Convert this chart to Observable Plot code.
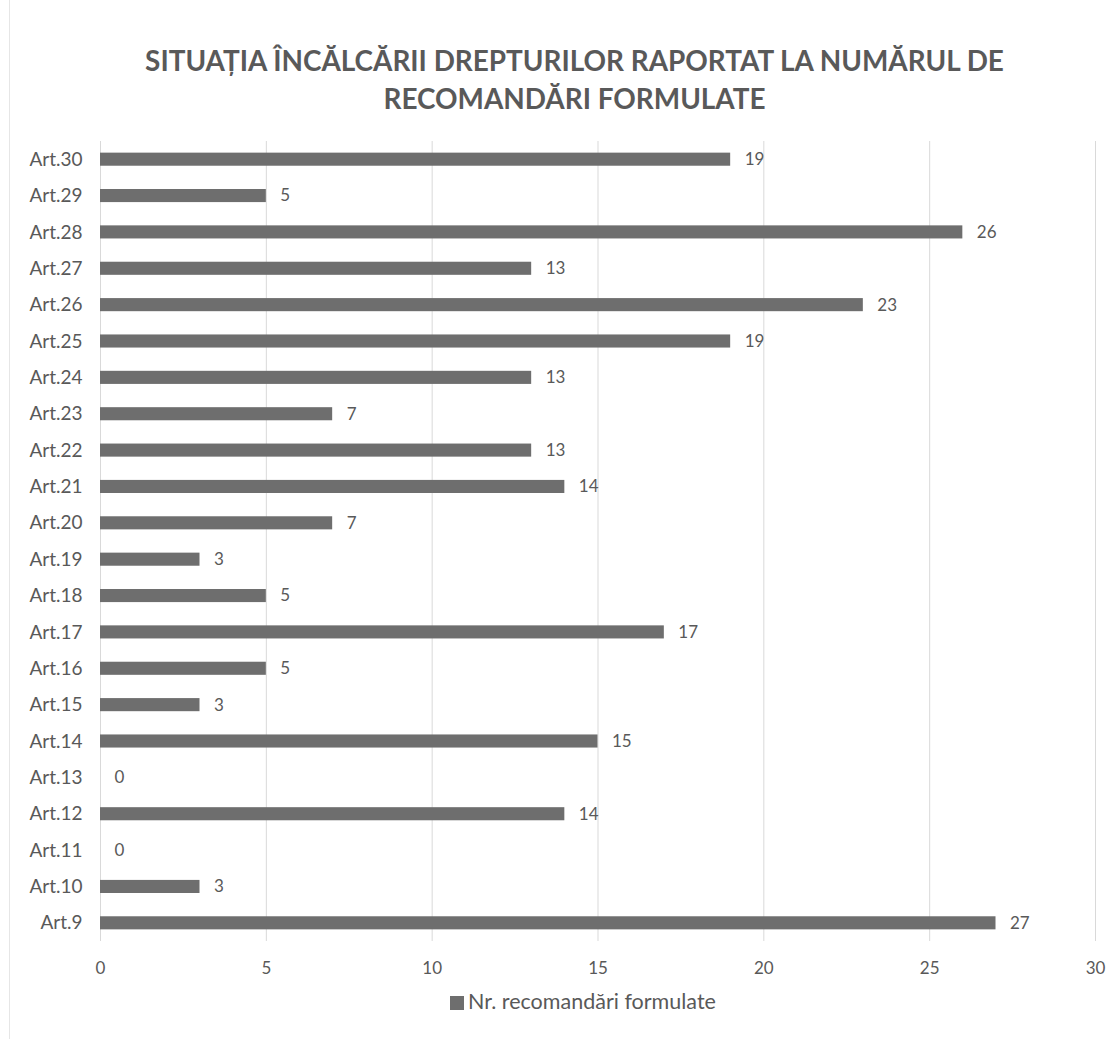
<!DOCTYPE html>
<html><head><meta charset="utf-8">
<script src="https://cdn.jsdelivr.net/npm/d3@7"></script>
<script src="https://cdn.jsdelivr.net/npm/@observablehq/plot@0.6"></script>
<style>
body{margin:0;background:#fff;font-family:Lato,"Open Sans",sans-serif;}
#wrap{position:relative;width:1119px;height:1039px;overflow:hidden;}
#title{position:absolute;left:15px;top:41px;width:1119px;text-align:center;font-weight:700;font-size:27.9px;line-height:38px;color:#595959;}
#legend{position:absolute;left:450px;top:988px;white-space:nowrap;font-size:21.5px;color:#595959;}
#legend span.sw{display:inline-block;width:14px;height:14px;background:#6e6e6e;margin-right:4px;vertical-align:-1px;}
#frame{position:absolute;left:9px;top:0;width:1px;height:1039px;background:#e6e6e6;}
</style></head>
<body><div id="wrap"><div id="frame"></div><div id="chart"></div>
<div id="title">SITUAȚIA ÎNCĂLCĂRII DREPTURILOR RAPORTAT LA NUMĂRUL DE<br>RECOMANDĂRI FORMULATE</div>
<div id="legend"><span class="sw"></span>Nr. recomandări formulate</div>
</div>
<script>
const categories = ["Art.30","Art.29","Art.28","Art.27","Art.26","Art.25","Art.24","Art.23","Art.22","Art.21","Art.20","Art.19","Art.18","Art.17","Art.16","Art.15","Art.14","Art.13","Art.12","Art.11","Art.10","Art.9"];
const values = [19,5,26,13,23,19,13,7,13,14,7,3,5,17,5,3,15,0,14,0,3,27];
const xTicks = [0,5,10,15,20,25,30];
const data = categories.map((c,i)=>({cat:c,val:values[i]}));
const chart = Plot.plot({
  width:1119,height:1039,
  marginTop:141,marginBottom:98,marginLeft:100,marginRight:24,
  style:{fontFamily:"Lato, 'Open Sans', sans-serif",fontSize:"16px",color:"#595959",background:"transparent"},
  x:{domain:[0,30],label:null},
  y:{domain:categories,paddingInner:0.64,paddingOuter:0.32,round:false,label:null},
  marks:[
    Plot.ruleX(xTicks,{stroke:"#d9d9d9",strokeWidth:1}),
    Plot.barX(data,{x:"val",y:"cat",fill:"#6e6e6e"}),
    Plot.text(data,{x:"val",y:"cat",text:d=>String(d.val),textAnchor:"start",dx:14,fill:"#595959",fontSize:17}),
    Plot.axisY({tickSize:0,tickPadding:18,fontSize:19}),
    Plot.axisX({ticks:xTicks,tickSize:0,tickPadding:20,fontSize:17,tickFormat:d=>String(d)})
  ]
});
document.getElementById("chart").appendChild(chart);
</script></body></html>
